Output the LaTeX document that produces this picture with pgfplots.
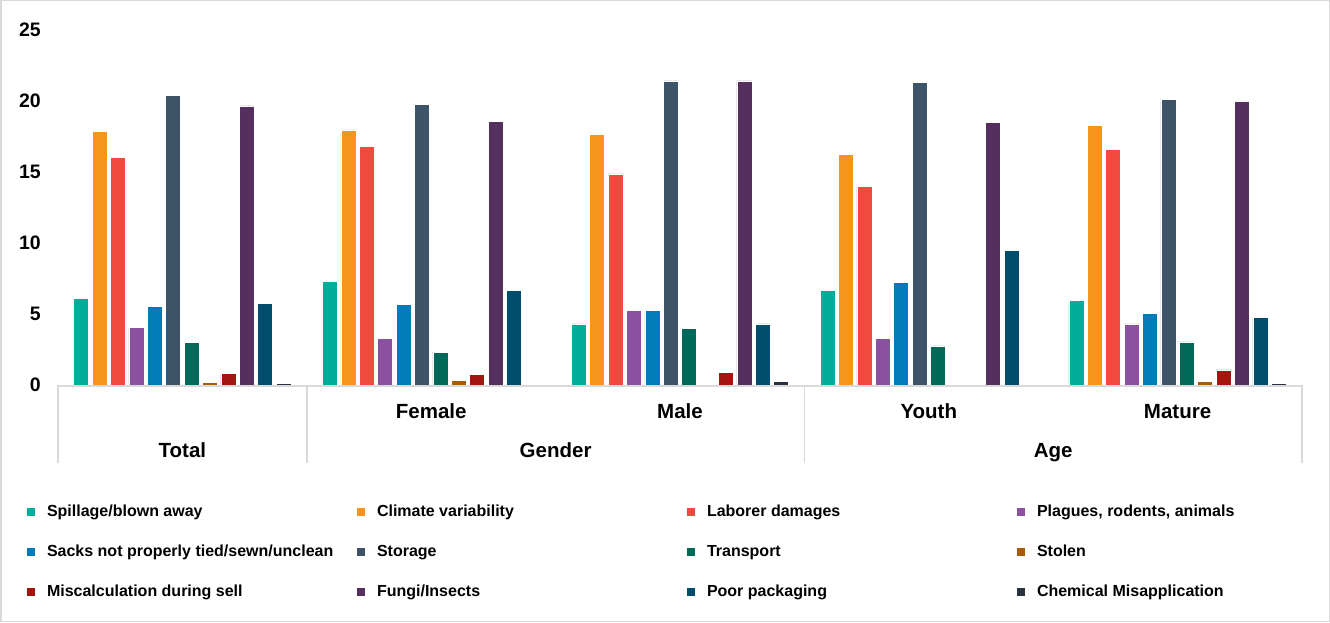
\documentclass[border=0pt]{standalone}
\usepackage{pgfplots}
\pgfplotsset{compat=1.18}
\usepackage{fontspec}
\setmainfont{Liberation Sans}

\definecolor{cSpill}{HTML}{02AE99}
\definecolor{cClimate}{HTML}{F7941D}
\definecolor{cLabor}{HTML}{F04A3E}
\definecolor{cPlague}{HTML}{8B51A1}
\definecolor{cSacks}{HTML}{017CB8}
\definecolor{cStorage}{HTML}{3D5468}
\definecolor{cTransport}{HTML}{01695A}
\definecolor{cStolen}{HTML}{A85C08}
\definecolor{cMiscalc}{HTML}{A5150F}
\definecolor{cFungi}{HTML}{55305E}
\definecolor{cPoor}{HTML}{014D6D}
\definecolor{cChem}{HTML}{27343F}
\definecolor{linegray}{HTML}{D9D9D9}

% fixed-size legend entry: equal column widths and row heights
\newcommand\lentry[1]{\makebox[310pt][l]{\rule[-4pt]{0pt}{16pt}#1}}

\begin{document}
\begin{tikzpicture}[x=1pt,y=1pt]
\path[use as bounding box] (0,0) rectangle (1330,622);
\draw[linegray, line width=1.5pt] (0.75,0.75) rectangle (1329.25,621.25);
\begin{axis}[
  at={(58pt,237pt)}, anchor=south west,
  scale only axis, width=1244pt, height=355pt,
  xmin=-0.5, xmax=4.5, ymin=0, ymax=25,
  ytick={0,5,...,25}, xtick={0,...,4},
  xticklabels={,Female,Male,Youth,Mature},
  axis line style={draw=none},
  major tick length=0pt,
  /pgf/number format/assume math mode=true,
  yticklabel style={font=\fontsize{19.5}{22}\selectfont\bfseries, inner sep=0pt, anchor=east, xshift=-17pt},
  xticklabel style={font=\fontsize{20.5}{24}\selectfont\bfseries, inner sep=0pt, anchor=base, yshift=-33pt},
  ybar=3.4pt, bar width=15pt,
  every axis plot/.append style={draw=white, line width=0.5pt},
  clip=false,
  legend columns=4,
  legend cell align=left,
  legend style={draw=none, fill=none, at={(axis description cs:-0.0249,-0.3374)}, anchor=north west,
    inner sep=0pt, outer sep=0pt, nodes={inner sep=0pt, outer sep=0pt},
    font=\fontsize{16}{19}\selectfont\bfseries, row sep=26.5pt,
    /tikz/every odd column/.append style={column sep=12pt}},
  legend image code/.code={\fill[#1, draw=none] (0pt,-4pt) rectangle (8pt,4pt);},
]
% groups: Total, Female, Male, Youth, Mature
\addplot[fill=cSpill]     coordinates {(0,6.10) (1,7.28) (2,4.30) (3,6.69) (4,5.94)};
\addlegendentry{\lentry{Spillage/blown away}}
\addplot[fill=cClimate]   coordinates {(0,17.84) (1,17.96) (2,17.65) (3,16.24) (4,18.29)};
\addlegendentry{\lentry{Climate variability}}
\addplot[fill=cLabor]     coordinates {(0,16.03) (1,16.81) (2,14.86) (3,13.99) (4,16.60)};
\addlegendentry{\lentry{Laborer damages}}
\addplot[fill=cPlague]    coordinates {(0,4.06) (1,3.31) (2,5.23) (3,3.31) (4,4.30)};
\addlegendentry{\lentry{Plagues, rodents, animals}}
\addplot[fill=cSacks]     coordinates {(0,5.52) (1,5.68) (2,5.23) (3,7.23) (4,5.05)};
\addlegendentry{\lentry{Sacks not properly tied/sewn/unclean}}
\addplot[fill=cStorage]   coordinates {(0,20.40) (1,19.74) (2,21.41) (3,21.31) (4,20.14)};
\addlegendentry{\lentry{Storage}}
\addplot[fill=cTransport] coordinates {(0,2.98) (1,2.32) (2,3.99) (3,2.75) (4,3.03)};
\addlegendentry{\lentry{Transport}}
\addplot[fill=cStolen]    coordinates {(0,0.19) (1,0.35) (2,0) (3,0) (4,0.28)};
\addlegendentry{\lentry{Stolen}}
\addplot[fill=cMiscalc]   coordinates {(0,0.80) (1,0.73) (2,0.89) (3,0) (4,1.06)};
\addlegendentry{\lentry{Miscalculation during sell}}
\addplot[fill=cFungi]     coordinates {(0,19.65) (1,18.57) (2,21.41) (3,18.50) (4,20.00)};
\addlegendentry{\lentry{Fungi/Insects}}
\addplot[fill=cPoor]      coordinates {(0,5.75) (1,6.67) (2,4.30) (3,9.48) (4,4.74)};
\addlegendentry{\lentry{Poor packaging}}
\addplot[fill=cChem]      coordinates {(0,0.12) (1,0) (2,0.28) (3,0) (4,0.12)};
\addlegendentry{\lentry{Chemical Misapplication}}

% category axis and group dividers
\draw[linegray, line width=1.7pt] ([yshift=-0.85pt]axis cs:-0.5,0) -- ([yshift=-0.85pt]axis cs:4.5,0);
\draw[linegray, line width=1.5pt] (axis cs:-0.5,0) -- ([yshift=-78pt]axis cs:-0.5,0);
\draw[linegray, line width=1.5pt] (axis cs:0.5,0) -- ([yshift=-78pt]axis cs:0.5,0);
\draw[linegray, line width=1.5pt] (axis cs:2.5,0) -- ([yshift=-78pt]axis cs:2.5,0);
\draw[linegray, line width=1.5pt] (axis cs:4.5,0) -- ([yshift=-78pt]axis cs:4.5,0);
\node[font=\fontsize{20.5}{24}\selectfont\bfseries, anchor=base] at ([yshift=-72pt]axis cs:0,0) {Total};
\node[font=\fontsize{20.5}{24}\selectfont\bfseries, anchor=base] at ([yshift=-72pt]axis cs:1.5,0) {Gender};
\node[font=\fontsize{20.5}{24}\selectfont\bfseries, anchor=base] at ([yshift=-72pt]axis cs:3.5,0) {Age};
\end{axis}
\end{tikzpicture}
\end{document}
